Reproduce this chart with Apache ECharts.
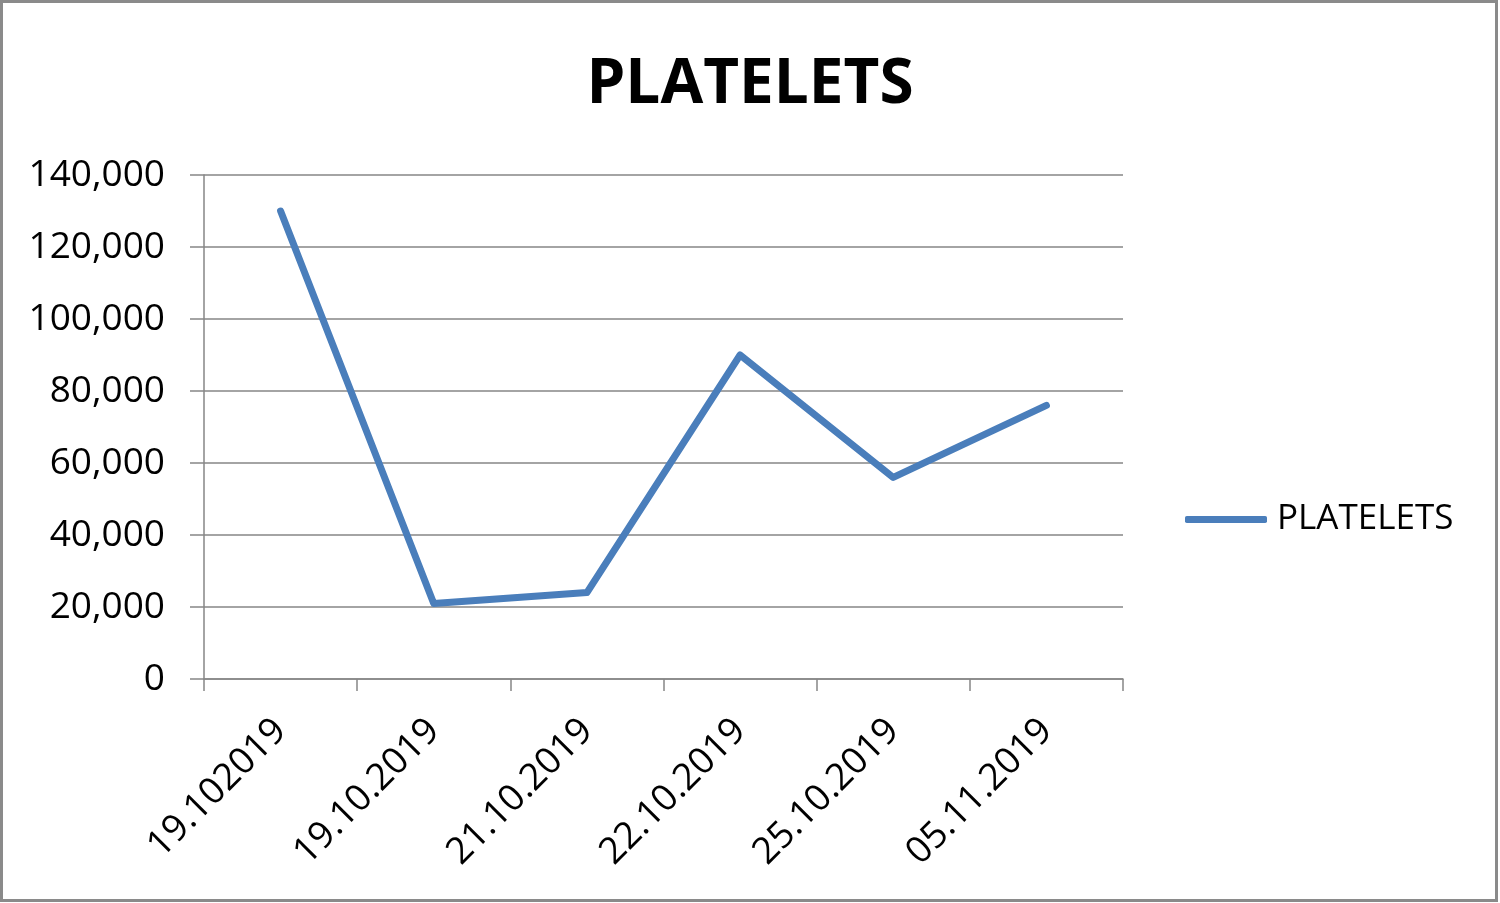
<!DOCTYPE html>
<html>
<head>
<meta charset="utf-8">
<script src="https://cdn.jsdelivr.net/npm/echarts@6/dist/echarts.min.js"></script>
<style>
html,body{margin:0;padding:0;background:#fff;}
#chart{width:1500px;height:903px;}
</style>
</head>
<body>
<div id="chart"></div>
<script>
var categories = ['19.102019','19.10.2019','21.10.2019','22.10.2019','25.10.2019','05.11.2019'];
var platelets = [130000, 21000, 24000, 90000, 56000, 76000];
var seriesName = 'PLATELETS';
var titleText = 'PLATELETS';
var yMin = 0, yMax = 140000, yStep = 20000;

var chart = echarts.init(document.getElementById('chart'), null, {renderer:'canvas'});
var axisColor = '#868686';
chart.setOption({
  animation:false,
  backgroundColor:'#ffffff',
  title:{
    text:titleText, left:'center', top:42,
    textStyle:{fontFamily:'Open Sans, sans-serif', fontWeight:'bold', fontSize:62, color:'#000', lineHeight:76}
  },
  legend:{
    left:1180, top:497, orient:'vertical',
    itemWidth:82, itemHeight:7, icon:'roundRect',
    textStyle:{fontFamily:'Open Sans', fontSize:35, color:'#000', padding:[0,0,0,5]},
    data:[{name:seriesName, itemStyle:{color:'#4a7ebb'}}]
  },
  grid:{left:204, right:377, top:175, bottom:224, containLabel:false},
  xAxis:{
    type:'category', data:categories, boundaryGap:true,
    axisLine:{show:true, lineStyle:{color:axisColor, width:1.5}},
    axisTick:{show:true, length:12, alignWithLabel:false, lineStyle:{color:axisColor, width:1.5}},
    axisLabel:{rotate:45, margin:46, fontFamily:'Open Sans', fontSize:37, color:'#000', interval:0},
    splitLine:{show:false}
  },
  yAxis:{
    type:'value', min:yMin, max:yMax, interval:yStep,
    axisLine:{show:true, lineStyle:{color:axisColor, width:1.5}},
    axisTick:{show:true, length:14, lineStyle:{color:axisColor, width:1.5}},
    axisLabel:{margin:39, fontFamily:'Open Sans', fontSize:37, color:'#000',
      formatter:function(v){return v.toLocaleString('en-US');}},
    splitLine:{show:true, lineStyle:{color:axisColor, width:1.5}}
  },
  series:[{
    name:seriesName, type:'line', data:platelets, symbol:'none',
    lineStyle:{color:'#4a7ebb', width:7, cap:'round', join:'round'},
    itemStyle:{color:'#4a7ebb'}
  }],
  graphic:[{
    type:'rect', silent:true, z:100,
    shape:{x:1.5, y:1.5, width:1495, height:899},
    style:{fill:null, stroke:'#8a8a8a', lineWidth:3}
  }]
});
</script>
</body>
</html>
